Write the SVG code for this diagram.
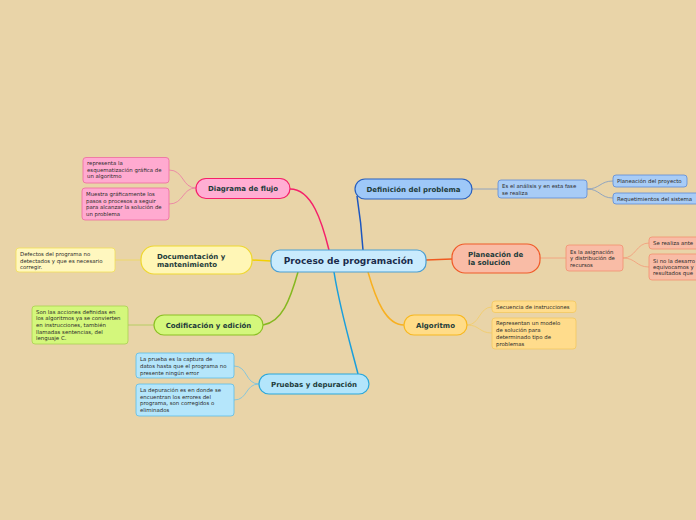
<svg xmlns="http://www.w3.org/2000/svg" width="696" height="520" viewBox="0 0 696 520">
<style>
.n{font-family:"DejaVu Sans",Verdana,sans-serif;font-weight:bold;font-size:7px;fill:#1d3b3a}
.c{font-family:"DejaVu Sans",Verdana,sans-serif;font-weight:bold;font-size:9px;fill:#1b2b4b}
.l{font-family:"DejaVu Sans",Verdana,sans-serif;font-size:5.4px;fill:#2a2a2a}
.m{text-anchor:middle}
.cn{fill:none;stroke-width:1.5}
.lc{fill:none;stroke-width:0.8}
</style>
<rect width="696" height="520" fill="#e9d4a8"/>
<g id="connectors">
<path class="cn" stroke="#f5206a" d="M290,189 C312,189 322,222 329,250"/>
<path class="cn" stroke="#1c56c0" d="M357,196 C360,215 362,235 363,250"/>
<path class="cn" stroke="#f05a20" d="M426,260 L452,259"/>
<path class="cn" stroke="#f8b020" d="M368,272 C376,300 386,325 404,325"/>
<path class="cn" stroke="#1a9fdc" d="M334,272 C340,310 352,350 358,374"/>
<path class="cn" stroke="#86b820" d="M298,272 C290,300 282,322 263,325"/>
<path class="cn" stroke="#f2d000" d="M271,261 L252,260"/>
<path class="lc" stroke="#ec78a4" d="M196,188 C182,188 184,170 169,170"/>
<path class="lc" stroke="#ec78a4" d="M196,188 C182,188 184,204 169,204"/>
<path class="lc" stroke="#efd95a" d="M141,260 L115,260"/>
<path class="lc" stroke="#a8cc50" d="M154,325 L128,325"/>
<path class="lc" stroke="#6ec2e6" d="M259,384 C245,384 248,366 234,366"/>
<path class="lc" stroke="#6ec2e6" d="M259,384 C245,384 248,400 234,400"/>
<path class="lc" stroke="#7a98c4" d="M472,189 L498,189"/>
<path class="lc" stroke="#7a98c4" d="M587,189 C600,189 600,181 613,181"/>
<path class="lc" stroke="#7a98c4" d="M587,189 C600,189 600,198 613,198"/>
<path class="lc" stroke="#f49a78" d="M540,258 L566,258"/>
<path class="lc" stroke="#f49a78" d="M623,258 C636,258 636,243 649,243"/>
<path class="lc" stroke="#f49a78" d="M623,258 C636,258 636,267 649,267"/>
<path class="lc" stroke="#f2cc66" d="M467,325 C480,325 479,307 492,307"/>
<path class="lc" stroke="#f2cc66" d="M467,325 C480,325 479,333 492,333"/>
</g>
<g id="central">
<rect x="271" y="250" width="155" height="22" rx="9" fill="#c9ebfd" stroke="#4a9fd4" stroke-width="1.2"/>
<text class="c m" x="348.5" y="264.3">Proceso de programación</text>
</g>
<g id="diagrama">
<rect x="196" y="178.5" width="94" height="20" rx="10" fill="#ffaed3" stroke="#f5206a" stroke-width="1.2"/>
<text class="n m" x="243" y="191">Diagrama de flujo</text>
</g>
<g id="diagrama-l1">
<rect x="83" y="157.5" width="86" height="25.5" rx="3" fill="#ffaad0" stroke="#ee6aa0" stroke-width="0.8"/>
<text class="l" x="87" y="165">representa la</text>
<text class="l" x="87" y="171.5">esquematización gráfica de</text>
<text class="l" x="87" y="178">un algoritmo</text>
</g>
<g id="diagrama-l2">
<rect x="82" y="188" width="87" height="32" rx="3" fill="#ffaad0" stroke="#ee6aa0" stroke-width="0.8"/>
<text class="l" x="86" y="196">Muestra gráficamente los</text>
<text class="l" x="86" y="202.6">pasos o procesos a seguir</text>
<text class="l" x="86" y="209.2">para alcanzar la solución de</text>
<text class="l" x="86" y="215.8">un problema</text>
</g>
<g id="documentacion">
<rect x="141" y="246" width="111" height="28" rx="13" fill="#fff6b6" stroke="#efd730" stroke-width="1.2"/>
<text class="n" x="157" y="258.5">Documentación y</text>
<text class="n" x="157" y="267">mantenimiento</text>
</g>
<g id="documentacion-l1">
<rect x="16" y="248" width="99" height="24" rx="3" fill="#fff7bf" stroke="#f2e056" stroke-width="0.8"/>
<text class="l" x="20" y="256">Defectos del programa no</text>
<text class="l" x="20" y="262.5">detectados y que es necesario</text>
<text class="l" x="20" y="269">corregir.</text>
</g>
<g id="codificacion">
<rect x="154" y="315" width="109" height="20" rx="10" fill="#d4f77c" stroke="#8cc024" stroke-width="1.2"/>
<text class="n m" x="208.5" y="327.5">Codificación y edición</text>
</g>
<g id="codificacion-l1">
<rect x="32" y="306" width="96" height="38" rx="3" fill="#d4f77c" stroke="#a8d050" stroke-width="0.8"/>
<text class="l" x="36" y="313.8">Son las acciones definidas en</text>
<text class="l" x="36" y="320.4">los algoritmos ya se convierten</text>
<text class="l" x="36" y="327">en instrucciones, también</text>
<text class="l" x="36" y="333.6">llamadas sentencias, del</text>
<text class="l" x="36" y="340.2">lenguaje C.</text>
</g>
<g id="pruebas">
<rect x="259" y="374" width="110" height="20" rx="10" fill="#b3e5fb" stroke="#2aa8dc" stroke-width="1.2"/>
<text class="n m" x="314" y="386.5">Pruebas y depuración</text>
</g>
<g id="pruebas-l1">
<rect x="136" y="353" width="98" height="25" rx="3" fill="#b5e6fb" stroke="#5cbde8" stroke-width="0.8"/>
<text class="l" x="140" y="361.3">La prueba es la captura de</text>
<text class="l" x="140" y="368">datos hasta que el programa no</text>
<text class="l" x="140" y="374.7">presente ningún error</text>
</g>
<g id="pruebas-l2">
<rect x="136" y="384" width="98" height="32" rx="3" fill="#b5e6fb" stroke="#5cbde8" stroke-width="0.8"/>
<text class="l" x="140" y="392">La depuración es en donde se</text>
<text class="l" x="140" y="398.7">encuentran los errores del</text>
<text class="l" x="140" y="405.4">programa, son corregidos o</text>
<text class="l" x="140" y="412.1">eliminados</text>
</g>
<g id="definicion">
<rect x="355" y="179" width="117" height="20" rx="10" fill="#9ec8f8" stroke="#2860c0" stroke-width="1.2"/>
<text class="n m" x="413.5" y="191.5">Definición del problema</text>
</g>
<g id="definicion-l1">
<rect x="498" y="180" width="89" height="18" rx="3" fill="#a8ccf6" stroke="#5a8ad8" stroke-width="0.8"/>
<text class="l" x="502" y="187.7">Es el análisis y en esta fase</text>
<text class="l" x="502" y="195">se realiza</text>
</g>
<g id="definicion-s1">
<rect x="613" y="175" width="74" height="12" rx="3" fill="#a8ccf6" stroke="#5a8ad8" stroke-width="0.8"/>
<text class="l" x="617" y="183">Planeación del proyecto</text>
</g>
<g id="definicion-s2">
<rect x="613" y="193" width="90" height="11" rx="3" fill="#a8ccf6" stroke="#5a8ad8" stroke-width="0.8"/>
<text class="l" x="617" y="200.5">Requetimientos del sistema</text>
</g>
<g id="planeacion">
<rect x="452" y="244" width="88" height="29" rx="13" fill="#f9bca6" stroke="#f05a28" stroke-width="1.2"/>
<text class="n" x="468" y="257">Planeación de</text>
<text class="n" x="468" y="265">la solución</text>
</g>
<g id="planeacion-l1">
<rect x="566" y="245" width="57" height="26" rx="3" fill="#f9bca6" stroke="#f39070" stroke-width="0.8"/>
<text class="l" x="570" y="253.7">Es la asignación</text>
<text class="l" x="570" y="260.3">y distribución de</text>
<text class="l" x="570" y="267">recursos</text>
</g>
<g id="planeacion-s1">
<rect x="649" y="237" width="60" height="12" rx="3" fill="#f9bca6" stroke="#f39070" stroke-width="0.8"/>
<text class="l" x="653" y="245.3">Se realiza ante</text>
</g>
<g id="planeacion-s2">
<rect x="649" y="254" width="60" height="26" rx="3" fill="#f9bca6" stroke="#f39070" stroke-width="0.8"/>
<text class="l" x="653" y="262.7">Si no la desarro</text>
<text class="l" x="653" y="269">equivocamos y</text>
<text class="l" x="653" y="275.3">resultados que</text>
</g>
<g id="algoritmo">
<rect x="404" y="315" width="63" height="20" rx="10" fill="#ffdc88" stroke="#f8b820" stroke-width="1.2"/>
<text class="n m" x="435.5" y="327.5">Algoritmo</text>
</g>
<g id="algoritmo-l1">
<rect x="492" y="301" width="84" height="11.5" rx="3" fill="#ffdc8c" stroke="#f3c860" stroke-width="0.8"/>
<text class="l" x="496" y="308.8">Secuencia de instrucciones</text>
</g>
<g id="algoritmo-l2">
<rect x="492" y="318" width="84" height="31" rx="3" fill="#ffdc8c" stroke="#f3c860" stroke-width="0.8"/>
<text class="l" x="496" y="325.4">Representan un modelo</text>
<text class="l" x="496" y="332.2">de solución para</text>
<text class="l" x="496" y="339">determinado tipo de</text>
<text class="l" x="496" y="345.8">problemas</text>
</g>
</svg>
